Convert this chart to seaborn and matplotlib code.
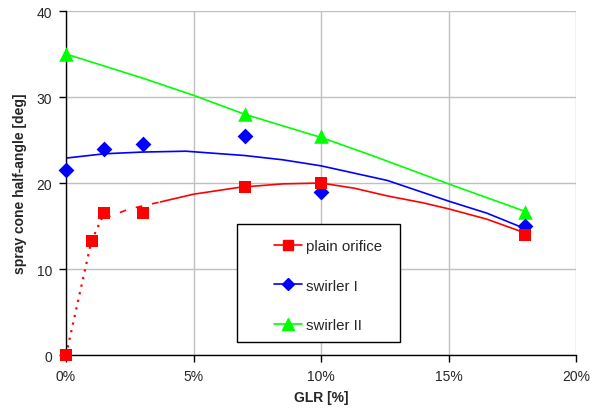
import numpy as np
import pandas as pd
import seaborn as sns
import matplotlib.pyplot as plt
from matplotlib.lines import Line2D
from matplotlib.patches import Rectangle

sns.set_style("white")
plt.rcParams['font.family'] = ['Liberation Sans', 'DejaVu Sans']

# measured points (GLR in %, half-angle in deg)
plain_glr = [0, 1, 1.5, 3, 7, 10, 18]
plain_ang = [0, 13.3, 16.5, 16.5, 19.5, 20.0, 14.0]
swirl1_glr = [0, 1.5, 3, 7, 10, 18]
swirl1_ang = [21.5, 24.0, 24.5, 25.5, 19.0, 15.0]
swirl2_glr = [0, 7, 10, 18]
swirl2_ang = [35.0, 28.0, 25.5, 16.6]

# trend curves
plain_fit_glr = [1.5, 2.5, 3.7, 5, 6.8, 8.5, 10, 11.3, 12.6, 14, 15, 16.5, 18]
plain_fit_ang = [15.9, 17.0, 17.8, 18.7, 19.5, 19.9, 20.0, 19.4, 18.5, 17.7, 17.0, 15.8, 14.2]
swirl1_fit_glr = [0, 1.5, 3, 4.7, 7, 8.5, 10, 12.6, 15, 16.5, 18]
swirl1_fit_ang = [22.9, 23.4, 23.6, 23.7, 23.2, 22.7, 22.0, 20.3, 17.9, 16.5, 14.7]
swirl2_fit_glr = [0, 3, 5, 7, 10, 12, 15, 18]
swirl2_fit_ang = [35.0, 32.2, 30.2, 28.0, 25.3, 23.2, 19.9, 16.7]

x_ticks = [0, 5, 10, 15, 20]
x_labels = ['0%', '5%', '10%', '15%', '20%']
y_ticks = [0, 10, 20, 30, 40]

red, blue, green = '#FF0000', '#0000FF', '#00FF00'

fig = plt.figure(figsize=(5.92, 4.14), dpi=100)
ax = fig.add_axes([0.1115, 0.140, 0.8615, 0.831])

# red: dotted start, dashed bit of trend, then solid trend
sns.lineplot(x=plain_glr[:3], y=plain_ang[:3], ax=ax, color=red, lw=1.6,
             linestyle=(0, (1, 2.5)), sort=False)
pf = pd.DataFrame({'x': plain_fit_glr, 'y': plain_fit_ang})
sns.lineplot(data=pf[pf.x <= 3.7], x='x', y='y', ax=ax, color=red, lw=1.2,
             linestyle=(0, (4, 6)))
sns.lineplot(data=pf[pf.x >= 3.7], x='x', y='y', ax=ax, color=red, lw=1.2)
sns.lineplot(x=swirl1_fit_glr, y=swirl1_fit_ang, ax=ax, color=blue, lw=1.2)
sns.lineplot(x=swirl2_fit_glr, y=swirl2_fit_ang, ax=ax, color=green, lw=1.2)

sns.scatterplot(x=swirl2_glr, y=swirl2_ang, ax=ax, color=green, marker='^',
                s=110, linewidth=0, zorder=5, clip_on=False)
sns.scatterplot(x=swirl1_glr, y=swirl1_ang, ax=ax, color=blue, marker='D',
                s=65, linewidth=0, zorder=5, clip_on=False)
sns.scatterplot(x=plain_glr, y=plain_ang, ax=ax, color=red, marker='s',
                s=85, linewidth=0, zorder=6, clip_on=False)

ax.set_xlim(0, 20)
ax.set_ylim(0, 40)
ax.set_xticks(x_ticks)
ax.set_xticklabels(x_labels)
ax.set_yticks(y_ticks)
ax.grid(True, color='#C0C0C0', lw=1)
ax.set_axisbelow(True)
for s in ['top', 'right']:
    ax.spines[s].set_visible(False)
for s in ['left', 'bottom']:
    ax.spines[s].set_color('black')
    ax.spines[s].set_linewidth(1)
ax.tick_params(axis='both', direction='out', length=5, width=1, color='black',
               labelsize=10, pad=5, left=True, bottom=True)
ax.set_xlabel('GLR [%]', fontsize=10, fontweight='bold', labelpad=5)
ax.set_ylabel('spray cone half-angle [deg]', fontsize=10, fontweight='bold', labelpad=7)

# legend with its own square frame
ax.add_patch(Rectangle((0.335, 0.038), 0.32, 0.343, transform=ax.transAxes,
                       fill=True, facecolor='white', edgecolor='black', lw=1, zorder=7))
handles = [
    Line2D([], [], color=red, marker='s', markersize=7, lw=1.2),
    Line2D([], [], color=blue, marker='D', markersize=6, lw=1.2),
    Line2D([], [], color=green, marker='^', markersize=8, lw=1.2),
]
leg = ax.legend(handles, ['plain orifice', 'swirler I', 'swirler II'],
                loc='upper left', bbox_to_anchor=(0.408, 0.338), frameon=False,
                fontsize=10.8, handlelength=1.85, handletextpad=0.3,
                labelspacing=1.72, borderpad=0, borderaxespad=0)
leg.set_zorder(8)

fig.savefig('out.png', dpi=100)
